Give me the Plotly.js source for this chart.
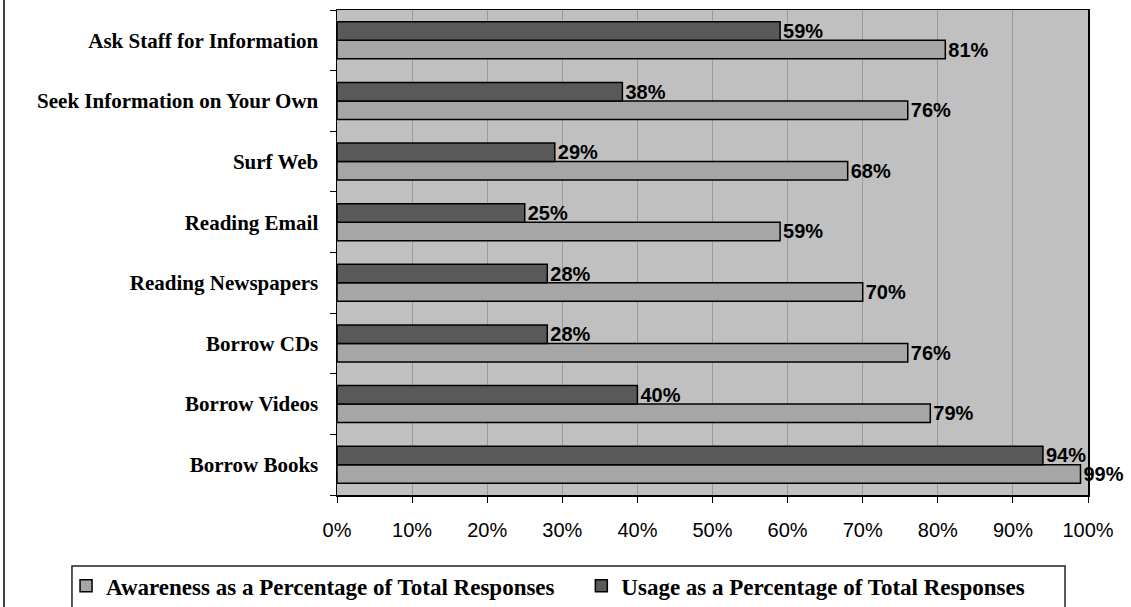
<!DOCTYPE html>
<html>
<head>
<meta charset="utf-8">
<script src="https://cdn.plot.ly/plotly-3.0.1.min.js"></script>
<style>html,body{margin:0;padding:0;background:#fff;}#chart{width:1131px;height:607px;}</style>
</head>
<body>
<div id="chart"></div>
<script>
const categories = ["Borrow Books", "Borrow Videos", "Borrow CDs", "Reading Newspapers", "Reading Email", "Surf Web", "Seek Information on Your Own", "Ask Staff for Information"];
const awareness = [99, 79, 76, 70, 59, 68, 76, 81];
const usage = [94, 40, 28, 28, 25, 29, 38, 59];
const seriesNames = ["Awareness as a Percentage of Total Responses", "Usage as a Percentage of Total Responses"];

const serif = "Liberation Serif, Times New Roman, serif";
const sans = "Liberation Sans, Arial, sans-serif";

const traces = [
  {type:'bar', orientation:'h', name: seriesNames[0], y: categories, x: awareness, legend:'legend',
   marker:{color:'#a6a6a6', line:{color:'#000', width:1.5}},
   text: awareness.map(v => v + '%'), textposition:'outside', cliponaxis:false, constraintext:'none',
   textfont:{family:sans, size:20, color:'#000', weight:'bold'}, hoverinfo:'x+y'},
  {type:'bar', orientation:'h', name: seriesNames[1], y: categories, x: usage, legend:'legend2',
   marker:{color:'#595959', line:{color:'#000', width:1.5}},
   text: usage.map(v => v + '%'), textposition:'outside', cliponaxis:false, constraintext:'none',
   textfont:{family:sans, size:20, color:'#000', weight:'bold'}, hoverinfo:'x+y'}
];

const legendFont = {family:serif, size:23, color:'#000', weight:'bold'};

const layout = {
  width:1131, height:607,
  margin:{l:337, r:43, t:10, b:112, pad:0},
  paper_bgcolor:'#fff', plot_bgcolor:'#c0c0c0',
  barmode:'group', bargap:0.39, bargroupgap:0,
  showlegend:true,
  legend:{orientation:'h', xref:'container', yref:'container', x:0.0584, xanchor:'left', y:0.0705, yanchor:'top',
          borderwidth:0, bgcolor:'rgba(0,0,0,0)', font:legendFont, itemwidth:30},
  legend2:{orientation:'h', xref:'container', yref:'container', x:0.514, xanchor:'left', y:0.0705, yanchor:'top',
          borderwidth:0, bgcolor:'rgba(0,0,0,0)', font:legendFont, itemwidth:30},
  xaxis:{range:[0,100], dtick:10, ticksuffix:'%', showgrid:true, gridcolor:'#9a9a9a', gridwidth:1,
         ticks:'outside', ticklen:6, tickcolor:'#000', showline:true, linecolor:'#000', linewidth:1.5,
         mirror:true, zeroline:false, ticklabelstandoff:10,
         tickfont:{family:sans, size:20, color:'#000'}, fixedrange:true},
  yaxis:{type:'category', categoryorder:'array', categoryarray:categories,
         tickson:'boundaries', ticks:'outside', ticklen:6, tickcolor:'#000',
         showline:true, linecolor:'#000', linewidth:1.5, mirror:true, showgrid:false,
         ticklabelstandoff:13,
         tickfont:{family:serif, size:21, color:'#000', weight:'bold'}, fixedrange:true},
  shapes:[
    {type:'line', xref:'paper', yref:'paper', x0:-0.4434, x1:-0.4434, y0:-0.3, y1:1.1,
     line:{color:'#000', width:1.5}},
    {type:'rect', xref:'paper', yref:'paper', x0:-0.3529, x1:0.9694, y0:-0.1464, y1:-0.299,
     line:{color:'#222', width:1.5}, fillcolor:'rgba(0,0,0,0)'}
  ],
  font:{family:sans, color:'#000'}
};

Plotly.newPlot('chart', traces, layout, {displayModeBar:false, staticPlot:true});
</script>
</body>
</html>
